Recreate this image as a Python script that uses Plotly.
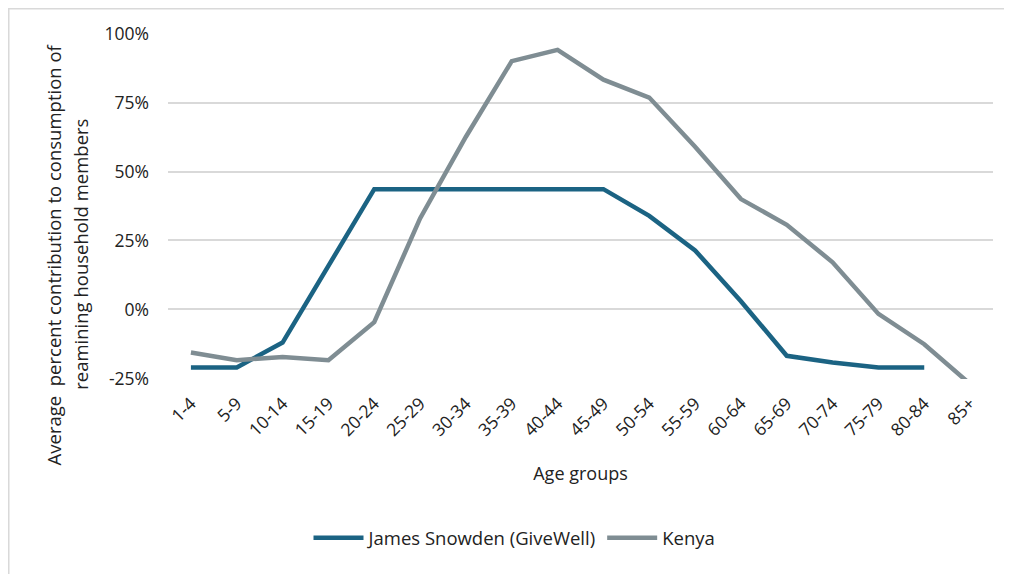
import plotly.graph_objects as go

# age groups on the x axis
age_groups = ["1-4", "5-9", "10-14", "15-19", "20-24", "25-29", "30-34", "35-39",
              "40-44", "45-49", "50-54", "55-59", "60-64", "65-69", "70-74",
              "75-79", "80-84", "85+"]

# average percent contribution (%)
snowden = [-21, -21, -12, 15.8, 43.6, 43.6, 43.6, 43.6, 43.6, 43.6,
           33.9, 21.4, 3, -16.8, -19.2, -21, -21, None]
kenya = [-15.6, -18.4, -17.2, -18.4, -4.6, 33, 62.6, 90, 94.1, 83.3,
         76.8, 59, 40, 30.7, 17.1, -1.6, -12.6, -27]

y_ticks = [-25, 0, 25, 50, 75, 100]
y_tick_labels = [f"{v}%" for v in y_ticks]

y_title_lines = ["Average  percent contribution to consumption of",
                 "reamining household members"]

FONT = "Open Sans"
TEXT = "#222222"
GRID = "#d9d9d9"

fig = go.Figure()
fig.add_trace(go.Scatter(
    x=age_groups, y=snowden, mode="lines", name="James Snowden (GiveWell)",
    line=dict(color="#1b6383", width=4.5), connectgaps=False,
))
fig.add_trace(go.Scatter(
    x=age_groups, y=kenya, mode="lines", name="Kenya",
    line=dict(color="#7f8d93", width=4.5),
))

# light frame round the chart area (cut off at right and bottom like the original)
fig.add_shape(type="rect", xref="paper", yref="paper",
              x0=-0.193, x1=1.2, y0=-1.0, y1=1.07,
              line=dict(color="#d9d9d9", width=1.5), fillcolor="rgba(0,0,0,0)",
              layer="below")

# y axis title as two rotated lines (Excel spaces them wider than plotly does)
for xpos, line in zip([-0.139, -0.107], y_title_lines):
    fig.add_annotation(text=line, xref="paper", yref="paper", x=xpos, y=0.361,
                       xanchor="center", yanchor="middle", textangle=-90,
                       showarrow=False, font=dict(size=18.5, color=TEXT))

# the page body has an 8px margin, so the figure is a bit smaller than the window
fig.update_layout(
    width=1004, height=566,
    margin=dict(l=160, r=19, t=25, b=195, autoexpand=False),
    paper_bgcolor="white", plot_bgcolor="white",
    font=dict(family=FONT, size=18, color=TEXT),
    showlegend=True,
    legend=dict(orientation="h", x=0.42, xanchor="center", y=-0.46, yanchor="middle",
                font=dict(size=18.5), itemwidth=50, tracegroupgap=0),
)

fig.update_xaxes(
    type="category", range=[-0.5, len(age_groups) - 0.5],
    tickangle=-45, showgrid=False, showline=False, zeroline=False,
    tickfont=dict(size=17.5), ticklabelstandoff=10,
    title=dict(text="Age groups", font=dict(size=18), standoff=27),
)

fig.update_yaxes(
    range=[-25.2, 100.2], tickvals=y_ticks, ticktext=y_tick_labels,
    showgrid=True, gridcolor=GRID, gridwidth=1.5, zeroline=False, showline=False,
    tickfont=dict(size=17.5), ticklabelstandoff=18,
)

fig.write_html("out.html")
